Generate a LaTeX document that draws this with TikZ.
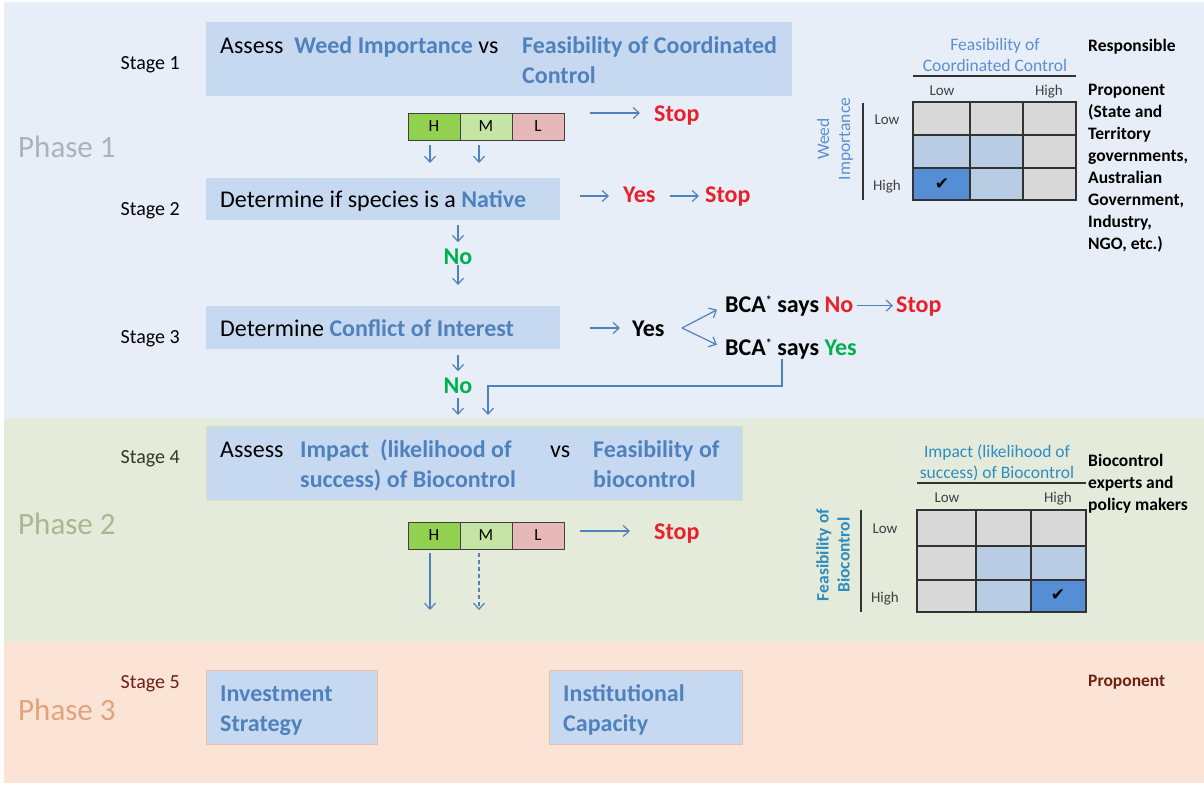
\documentclass[tikz,border=0pt]{standalone}
\usepackage{fontspec}
\setmainfont{Carlito}
\newfontfamily\symbfont{DejaVu Sans}
\usetikzlibrary{arrows.meta}

\definecolor{phaseone}{HTML}{E8EEF8}
\definecolor{phasetwo}{HTML}{E5EBDB}
\definecolor{phasethree}{HTML}{FBE4D5}
\definecolor{phaseonetxt}{HTML}{ADB2B8}
\definecolor{phasetwotxt}{HTML}{A9B78F}
\definecolor{phasethreetxt}{HTML}{E0A47C}
\definecolor{stagefour}{HTML}{2E3B1F}
\definecolor{stagefive}{HTML}{6E2014}
\definecolor{boxfill}{HTML}{C6D9F1}
\definecolor{fourline}{HTML}{D5E3C0}
\definecolor{fiveline}{HTML}{F2BE9C}
\definecolor{keyblue}{HTML}{4F81BD}
\definecolor{headblue}{HTML}{5B8FD0}
\definecolor{headteal}{HTML}{2F8CC0}
\definecolor{stopred}{HTML}{E8202A}
\definecolor{okgreen}{HTML}{00B050}
\definecolor{hgreen}{HTML}{92D050}
\definecolor{mgreen}{HTML}{C5E5A5}
\definecolor{lpink}{HTML}{E6B9B8}
\definecolor{cellgrey}{HTML}{D9D9D9}
\definecolor{celllite}{HTML}{B8CCE4}
\definecolor{celldark}{HTML}{558ED5}

\newcommand{\keyw}[1]{\textcolor{keyblue}{\textbf{#1}}}
\newcommand{\txtrows}[2][l]{\begin{tabular}[t]{@{}#1@{}}#2\end{tabular}}
\newcommand{\bcastar}{\raisebox{8pt}{\fontsize{12}{12}\selectfont *}}

\begin{document}
\begin{tikzpicture}
  [x=1pt,y=-1pt,every node/.style={inner sep=0pt},
   big/.style={font=\fontsize{24}{30}\selectfont},
   stagelbl/.style={anchor=base east,font=\fontsize{20}{24}\selectfont},
   phaselbl/.style={anchor=base west,font=\fontsize{31}{36}\selectfont},
   box/.style={anchor=north west,fill=boxfill},
   hml/.style={draw=black!75,line width=0.8pt,minimum width=52pt,minimum height=27pt,font=\fontsize{17}{20}\selectfont},
   stopw/.style={anchor=base west,text=stopred,font=\fontsize{24}{30}\selectfont\bfseries},
   okw/.style={anchor=base west,text=okgreen,font=\fontsize{24}{30}\selectfont\bfseries},
   plainw/.style={anchor=base west,font=\fontsize{24}{30}\selectfont\bfseries},
   arr/.style={draw=keyblue,line width=1.2pt,-{Straight Barb[length=6pt,width=11pt]}},
   headw/.style={font=\fontsize{17.5}{21}\selectfont},
   levelw/.style={anchor=base,text=black!75,font=\fontsize{15}{18}\selectfont},
   respw/.style={anchor=base west,font=\fontsize{17.5}{22}\selectfont\bfseries},
   checkw/.style={font=\symbfont\fontsize{17}{20}\selectfont},
   cellline/.style={draw=black!80,line width=1.4pt},
   ruleline/.style={draw=black!80,line width=1.4pt}]
  \useasboundingbox (0,0) rectangle (1204,785);
  \fill[white] (0,0) rectangle (1204,785);
  \fill[phaseone] (4,2) rectangle (1204,418);
  \fill[phasetwo] (4,418) rectangle (1204,642);
  \fill[phasethree] (4,642) rectangle (1204,783);

  \node[phaselbl,text=phaseonetxt] (p1) at (18,157) {Phase 1};
  \node[phaselbl,text=phasetwotxt] (p2) at (18,534) {Phase 2};
  \node[phaselbl,text=phasethreetxt] (p3) at (18,720) {Phase 3};

  \node[stagelbl] (st1) at (180,69) {Stage 1};
  \node[stagelbl] (st2) at (180,215) {Stage 2};
  \node[stagelbl] (st3) at (180,343) {Stage 3};
  \node[stagelbl,text=stagefour] (st4) at (180,463) {Stage 4};
  \node[stagelbl,text=stagefive] (st5) at (180,688) {Stage 5};

  % stage boxes
  \node[box,minimum width=586pt,minimum height=74pt] (sA) at (206,22) {};
  \node[box,minimum width=354pt,minimum height=42pt] (sB) at (206,178) {};
  \node[box,minimum width=354pt,minimum height=43pt] (sC) at (206,306) {};
  \node[box,draw=fourline,minimum width=536pt,minimum height=74pt] (sD) at (206,426) {};
  \node[box,draw=fiveline,minimum width=171pt,minimum height=74pt] (sE) at (206,670) {};
  \node[box,draw=fiveline,minimum width=193pt,minimum height=74pt] (sF) at (549,670) {};

  \node[big,anchor=base west] (tA1) at (220,53) {Assess\ \ \keyw{Weed Importance} vs};
  \node[big,anchor=base west] (tA2) at (522,53) {\txtrows{\keyw{Feasibility of Coordinated}\\\keyw{Control}}};
  \node[big,anchor=base west] (tB) at (220,207) {Determine if species is a \keyw{Native}};
  \node[big,anchor=base west] (tC) at (220,336) {Determine \keyw{Conflict of Interest}};
  \node[big,anchor=base west] (tD1) at (220,457) {Assess};
  \node[big,anchor=base west] (tD2) at (300,457) {\txtrows{\keyw{Impact\ \ (likelihood of}\\\keyw{success) of Biocontrol}}};
  \node[big,anchor=base west] (tD3) at (550,457) {vs};
  \node[big,anchor=base west] (tD4) at (593,457) {\txtrows{\keyw{Feasibility of}\\\keyw{biocontrol}}};
  \node[big,anchor=base west] (tE) at (220,701) {\txtrows{\keyw{Investment}\\\keyw{Strategy}}};
  \node[big,anchor=base west] (tF) at (563,701) {\txtrows{\keyw{Institutional}\\\keyw{Capacity}}};

  % stage 1 rating
  \node[hml,fill=hgreen] (h1) at (434,126.5) {H};
  \node[hml,fill=mgreen] (m1) at (486,126.5) {M};
  \node[hml,fill=lpink] (l1) at (538,126.5) {L};
  \coordinate (a1) at (590,113);
  \node[stopw] (stop1) at (654,121) {Stop};
  \draw[arr,shorten >=14pt] (a1) -- (a1 -| stop1.west);
  \draw[arr,shorten <=5pt,shorten >=15pt] ([xshift=-4pt]h1.south) -- ([xshift=-4pt]h1.south |- sB.north);
  \draw[arr,shorten <=5pt,shorten >=15pt] ([xshift=-7pt]m1.south) -- ([xshift=-7pt]m1.south |- sB.north);

  % stage 2
  \coordinate (a2) at (580,196);
  \node[stopw] (yes2) at (623,202) {Yes};
  \node[stopw] (stop2) at (705,202) {Stop};
  \draw[arr,shorten >=14pt] (a2) -- (a2 -| yes2.west);
  \draw[arr,shorten <=14pt,shorten >=6pt] (a2 -| yes2.east) -- (a2 -| stop2.west);
  \node[okw,anchor=base] (no2) at (458,264) {No};
  \draw[arr,shorten <=5pt,shorten >=6pt] (sB.south -| no2) -- (no2.north);
  \draw[arr,shorten <=1pt,shorten >=21pt] (no2.south) -- (no2.south |- sC.north);

  % stage 3
  \coordinate (a3) at (590,328);
  \node[plainw] (yes3) at (632,336) {Yes};
  \draw[arr,shorten >=12pt] (a3) -- (a3 -| yes3.west);
  \coordinate (fork) at (682,328);
  \node[plainw] (bcaN) at (725,312) {BCA\bcastar\ says \textcolor{stopred}{No}};
  \node[plainw] (bcaY) at (725,355) {BCA\bcastar\ says \textcolor{okgreen}{Yes}};
  \draw[arr,shorten >=9pt] (fork) -- (bcaN.west);
  \draw[arr,shorten >=9pt] (fork) -- (bcaY.west);
  \node[stopw] (stop3) at (896,312) {Stop};
  \draw[arr,shorten <=4pt,shorten >=3pt] (bcaN.east) -- (bcaN.east -| stop3.west);
  \coordinate (bend) at (782,386);
  \coordinate (join) at (488,386);
  \draw[arr,shorten >=11pt] (bcaY.south -| bend) -- (bend) -- (join) -- (join |- sD.north);
  \node[okw,anchor=base] (no3) at (458,393) {No};
  \draw[arr,shorten <=6pt,shorten >=6pt] (sC.south -| no3) -- (no3.north);
  \draw[arr,shorten <=5pt,shorten >=11pt] (no3.south) -- (no3.south |- sD.north);

  % stage 4 rating
  \node[hml,fill=hgreen] (h2) at (434,535.5) {H};
  \node[hml,fill=mgreen] (m2) at (486,535.5) {M};
  \node[hml,fill=lpink] (l2) at (538,535.5) {L};
  \coordinate (a4) at (580,531);
  \node[stopw] (stop4) at (654,539) {Stop};
  \draw[arr,shorten >=24pt] (a4) -- (a4 -| stop4.west);
  \coordinate (dH) at (430,610);
  \coordinate (dM) at (479,610);
  \draw[arr,shorten <=4pt] (h2.south -| dH) -- (dH);
  \draw[arr,dash pattern=on 4pt off 3pt,shorten <=4pt] (m2.south -| dM) -- (dM);

  % matrix weed importance / feasibility
  \fill[cellgrey] (913,102) rectangle (1076,200);
  \fill[celllite] (913,135) rectangle (1023,200);
  \fill[celldark] (913,168) rectangle (970,200);
  \draw[cellline] (913,102) rectangle (1076,200);
  \draw[cellline] (970,102) -- (970,200) (1023,102) -- (1023,200)
    (913,135) -- (1076,135) (913,168) -- (1076,168);
  \node[checkw] (chk1) at (942,184) {✔};
  \node[headw,anchor=base,text=headblue] (hA) at (995,50) {\txtrows[c]{Feasibility of\\Coordinated Control}};
  \draw[ruleline] (913,76) -- (1076,76);
  \node[levelw] (loA) at (942,95) {Low};
  \node[levelw] (hiA) at (1049,95) {High};
  \node[levelw] (rlA) at (887,124) {Low};
  \node[levelw] (rhA) at (887,190) {High};
  \draw[ruleline] (863,103) -- (863,200);
  \node[headw,rotate=90,align=center,text=headblue] (wI) at (835,139) {Weed\\Importance};
  \node[respw] (resp) at (1088,51) {Responsible};
  \node[respw] (prop) at (1088,95) {\txtrows{Proponent\\(State and\\Territory\\governments,\\Australian\\Government,\\Industry,\\NGO, etc.)}};

  % matrix impact / feasibility of biocontrol
  \fill[cellgrey] (917,510) rectangle (1086,612);
  \fill[celllite] (976,546) rectangle (1086,612);
  \fill[celldark] (1031,580) rectangle (1086,612);
  \draw[cellline] (917,510) rectangle (1086,612);
  \draw[cellline] (976,510) -- (976,612) (1031,510) -- (1031,612)
    (917,546) -- (1086,546) (917,580) -- (1086,580);
  \node[checkw] (chk2) at (1058,595) {✔};
  \node[headw,anchor=base,text=headteal] (hB) at (997,457) {\txtrows[c]{Impact (likelihood of\\success) of Biocontrol}};
  \draw[ruleline] (917,483) -- (1086,483);
  \node[levelw] (loB) at (947,502) {Low};
  \node[levelw] (hiB) at (1058,502) {High};
  \node[levelw] (rlB) at (885,533) {Low};
  \node[levelw] (rhB) at (885,602) {High};
  \draw[ruleline] (861,510) -- (861,612);
  \node[headw,rotate=90,align=center,text=headteal,font=\fontsize{17.5}{21}\selectfont\bfseries] (fB) at (833,555) {Feasibility of\\Biocontrol};
  \node[respw] (bexp) at (1088,466) {\txtrows{Biocontrol\\experts and\\policy makers}};

  \node[respw,text=stagefive] (prop3) at (1088,686) {Proponent};
\end{tikzpicture}
\end{document}
